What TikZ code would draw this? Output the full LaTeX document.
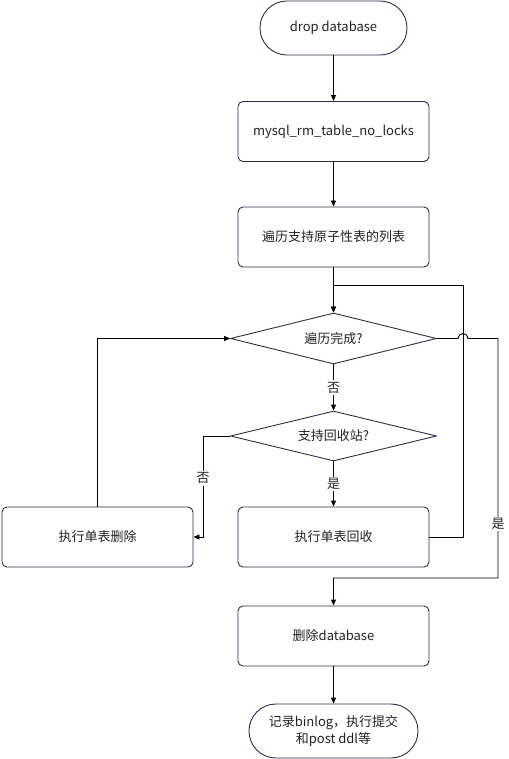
\documentclass[tikz,border=0pt]{standalone}
\usepackage{fontspec}
\setmainfont{Noto Sans CJK SC}
\usetikzlibrary{shapes.geometric,arrows.meta}
\definecolor{bord}{HTML}{2B2D4A}
\definecolor{txt}{HTML}{222222}
\begin{document}
\begin{tikzpicture}[x=1pt,y=-1pt,
  every node/.style={font=\fontsize{13}{17.5}\selectfont, text=txt},
  box/.style={draw=bord, line width=0.9pt, rounded corners=5pt, minimum width=191pt, minimum height=60pt, inner sep=0pt},
  term/.style={draw=bord, line width=0.9pt, rounded corners=26.9pt, minimum height=54pt, inner sep=0pt},
  dia/.style={draw=bord, line width=0.9pt, shape=diamond, aspect=4, minimum width=206pt, minimum height=51pt, inner sep=0pt},
  conn/.style={line width=0.9pt, draw=black, -{Triangle[length=6pt,width=5pt]}},
  lbl/.style={fill=white, inner sep=1.5pt}]
\useasboundingbox (0,0) rectangle (508,759);
\node[term, minimum width=147pt] (start) at (333.5,28) {drop database};
\node[box] (rm) at (333.5,131.5) {mysql\_rm\_table\_no\_locks};
\node[box] (iter) at (333.5,237) {遍历支持原子性表的列表};
\node[dia] (done) at (333.5,338.5) {遍历完成?};
\node[dia, minimum height=50pt] (recyc) at (333.5,436) {支持回收站?};
\node[box] (recbox) at (333.5,537) {执行单表回收};
\node[box] (delbox) at (97.5,537) {执行单表删除};
\node[box] (dropdb) at (333.5,636) {删除database};
\node[term, minimum width=169pt, align=center] (end) at (333.5,731) {记录binlog，执行提交\\和post ddl等};
\coordinate (loopR) at (463,285);
\coordinate (hopA) at (458,338.5);
\coordinate (yesTop) at (498,338.5);
\coordinate (yesBot) at (498,578);
\coordinate (noBend) at (203,436);
\draw[conn] (start) -- (rm);
\draw[conn] (rm) -- (iter);
\draw[conn] (iter) -- (done);
\draw[conn] (done) -- node[lbl]{否} (recyc);
\draw[conn] (recyc) -- node[lbl]{是} (recbox);
\draw[conn] (recyc.west) -- (noBend) |- node[lbl, pos=0.21]{否} (delbox.east);
\draw[conn] (delbox.north) |- (done.west);
\draw[conn] (recbox.east) -| (loopR) -| (done.north);
\draw[conn] (done.east) -- (hopA) arc[start angle=180, end angle=360, radius=5] -- (yesTop) -- node[lbl, pos=0.775]{是} (yesBot) -| (dropdb.north);
\draw[conn] (dropdb) -- (end);
\end{tikzpicture}
\end{document}
